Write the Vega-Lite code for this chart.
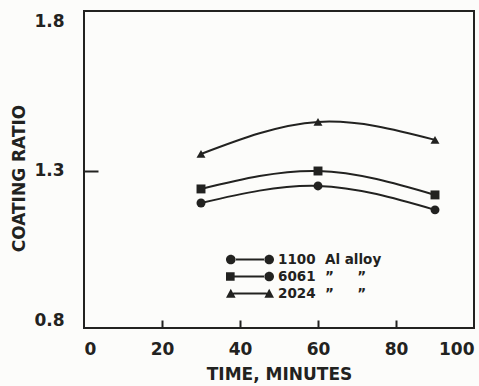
{
  "$schema": "https://vega.github.io/schema/vega-lite/v6.json",
  "autosize": {"type": "none"},
  "padding": {"left": 84, "top": 11, "right": 5, "bottom": 58},
  "width": 390,
  "height": 317,
  "background": "#fcfcfa",
  "config": {
    "view": {"stroke": "#222220", "strokeWidth": 2},
    "axis": {
      "grid": false,
      "domain": false,
      "tickColor": "#222220",
      "tickWidth": 2,
      "labelFont": "DejaVu Sans",
      "labelFontWeight": "bold",
      "labelFontSize": 17,
      "labelColor": "#222220",
      "titleFont": "DejaVu Sans",
      "titleFontWeight": "bold",
      "titleFontSize": 17,
      "titleColor": "#222220"
    }
  },
  "data": {
    "values": [
      {"series": "1100\u00a0\u00a0Al alloy", "time": 30, "ratio": 1.193},
      {"series": "1100\u00a0\u00a0Al alloy", "time": 60, "ratio": 1.25},
      {"series": "1100\u00a0\u00a0Al alloy", "time": 90, "ratio": 1.17},
      {"series": "6061\u00a0\u00a0\u201d\u00a0\u00a0\u00a0\u00a0\u00a0\u201d", "time": 30, "ratio": 1.24},
      {"series": "6061\u00a0\u00a0\u201d\u00a0\u00a0\u00a0\u00a0\u00a0\u201d", "time": 60, "ratio": 1.30},
      {"series": "6061\u00a0\u00a0\u201d\u00a0\u00a0\u00a0\u00a0\u00a0\u201d", "time": 90, "ratio": 1.22},
      {"series": "2024\u00a0\u00a0\u201d\u00a0\u00a0\u00a0\u00a0\u00a0\u201d", "time": 30, "ratio": 1.357},
      {"series": "2024\u00a0\u00a0\u201d\u00a0\u00a0\u00a0\u00a0\u00a0\u201d", "time": 60, "ratio": 1.464},
      {"series": "2024\u00a0\u00a0\u201d\u00a0\u00a0\u00a0\u00a0\u00a0\u201d", "time": 90, "ratio": 1.404}
    ]
  },
  "layer": [
    {
      "mark": {"type": "line", "interpolate": "natural", "color": "#222220", "strokeWidth": 2},
      "encoding": {
        "detail": {"field": "series"},
        "x": {
          "field": "time", "type": "quantitative",
          "scale": {"domain": [0, 100], "nice": false},
          "axis": {"values": [0, 20, 40, 60, 80, 100], "ticks": false, "labelPadding": 13, "title": "TIME, MINUTES", "titlePadding": 9}
        },
        "y": {
          "field": "ratio", "type": "quantitative",
          "scale": {"domain": [0.775, 1.835], "nice": false, "zero": false},
          "axis": {"values": [0.8, 1.3, 1.8], "format": ".1f", "ticks": false, "labelPadding": 20, "title": "COATING RATIO", "titlePadding": 5, "titleY": 167}
        }
      }
    },
    {
      "mark": {"type": "point", "filled": true, "color": "#222220", "opacity": 1, "size": 80},
      "encoding": {
        "x": {
          "field": "time", "type": "quantitative",
          "axis": {"orient": "top", "values": [20, 40, 60, 80], "labels": false, "ticks": true, "tickSize": 8, "offset": -317, "title": null}
        },
        "y": {
          "field": "ratio", "type": "quantitative",
          "axis": {"orient": "right", "values": [1.3], "labels": false, "ticks": true, "tickSize": 14, "offset": -390, "title": null}
        },
        "shape": {
          "field": "series", "type": "nominal",
          "scale": {"domain": ["1100\u00a0\u00a0Al alloy", "6061\u00a0\u00a0\u201d\u00a0\u00a0\u00a0\u00a0\u00a0\u201d", "2024\u00a0\u00a0\u201d\u00a0\u00a0\u00a0\u00a0\u00a0\u201d"], "range": ["circle", "square", "triangle-up"]},
          "legend": null
        }
      }
    },
    {
      "mark": {"type": "point", "filled": true, "color": "#222220", "opacity": 0, "size": 2304},
      "encoding": {
        "x": {"field": "time", "type": "quantitative", "axis": null},
        "y": {"field": "ratio", "type": "quantitative", "axis": null},
        "shape": {
          "field": "series", "type": "nominal",
          "scale": {
            "domain": ["1100\u00a0\u00a0Al alloy", "6061\u00a0\u00a0\u201d\u00a0\u00a0\u00a0\u00a0\u00a0\u201d", "2024\u00a0\u00a0\u201d\u00a0\u00a0\u00a0\u00a0\u00a0\u201d"],
            "range": [
              "M-1,0A0.2,0.2 0 1,0 -0.6,0A0.2,0.2 0 1,0 -1,0Z M-0.62,-0.04L0.62,-0.04L0.62,0.04L-0.62,0.04Z M0.6,0A0.2,0.2 0 1,0 1,0A0.2,0.2 0 1,0 0.6,0Z",
              "M-1,-0.18L-0.64,-0.18L-0.64,0.18L-1,0.18Z M-0.66,-0.04L0.62,-0.04L0.62,0.04L-0.66,0.04Z M0.6,0A0.2,0.2 0 1,0 1,0A0.2,0.2 0 1,0 0.6,0Z",
              "M-1,0.18L-0.8,-0.2L-0.6,0.18Z M-0.7,-0.04L0.7,-0.04L0.7,0.04L-0.7,0.04Z M0.6,0.18L0.8,-0.2L1,0.18Z"
            ]
          },
          "legend": {
            "title": null,
            "orient": "none",
            "legendX": 142,
            "legendY": 240,
            "padding": 0,
            "clipHeight": 17,
            "rowPadding": 0,
            "symbolSize": 2304,
            "symbolOpacity": 1,
            "symbolFillColor": "#222220",
            "symbolStrokeWidth": 0,
            "labelFont": "DejaVu Sans",
            "labelFontWeight": "bold",
            "labelFontSize": 13.5,
            "labelColor": "#222220",
            "labelOffset": 4
          }
        }
      }
    }
  ],
  "resolve": {"scale": {"shape": "independent"}, "legend": {"shape": "independent"}, "axis": {"y": "independent", "x": "independent"}}
}
